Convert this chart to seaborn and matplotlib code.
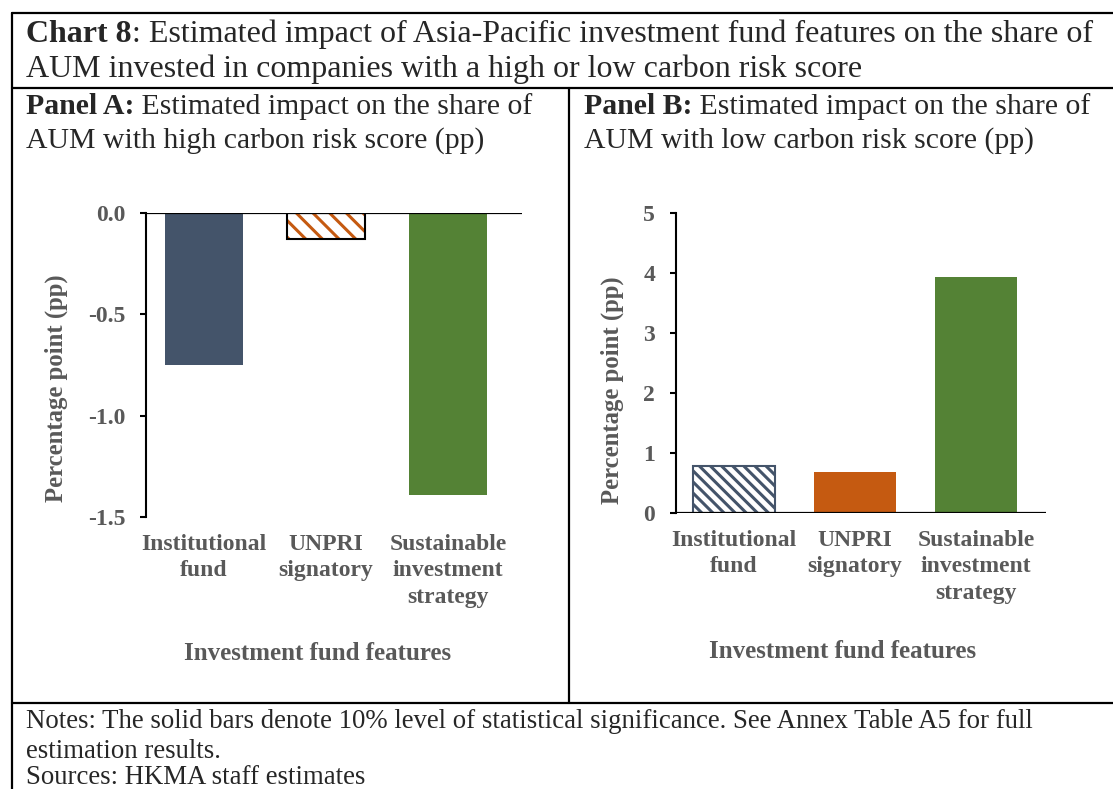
import matplotlib
matplotlib.use("Agg")
import matplotlib.pyplot as plt
import matplotlib.colors as mcolors
from matplotlib.lines import Line2D
import seaborn as sns

# ---------------- data ----------------
categories = ["Institutional\nfund", "UNPRI\nsignatory", "Sustainable\ninvestment\nstrategy"]
panel_a_values = [-0.75, -0.13, -1.39]
panel_b_values = [0.78, 0.68, 3.93]
panel_a_ticks = [0.0, -0.5, -1.0, -1.5]
panel_a_ticklabels = ["0.0", "-0.5", "-1.0", "-1.5"]
panel_b_ticks = [0, 1, 2, 3, 4, 5]
colors = ["#44546A", "#C55A11", "#548235"]
panel_a_hatched = [False, True, False]
panel_b_hatched = [True, False, False]

title_bold = "Chart 8"
title_rest1 = ": Estimated impact of Asia-Pacific investment fund features on the share of"
title_line2 = "AUM invested in companies with a high or low carbon risk score"
panel_a_bold = "Panel A:"
panel_a_rest = " Estimated impact on the share of"
panel_a_line2 = "AUM with high carbon risk score (pp)"
panel_b_bold = "Panel B:"
panel_b_rest = " Estimated impact on the share of"
panel_b_line2 = "AUM with low carbon risk score (pp)"
notes = ["Notes: The solid bars denote 10% level of statistical significance. See Annex Table A5 for full",
         "estimation results.",
         "Sources: HKMA staff estimates"]
ylabel = "Percentage point (pp)"
xlabel = "Investment fund features"

sns.set_theme(style="white")
plt.rcParams["font.family"] = ["Liberation Serif", "DejaVu Serif"]
plt.rcParams["hatch.linewidth"] = 2.2

W, H = 1113, 789
fig = plt.figure(figsize=(W / 100, H / 100), dpi=100)
fig.patch.set_facecolor("white")

def fx(px):
    return px / W

def fy(py):
    return 1 - py / H

TITLE_FS = 23
PANEL_FS = 21.4
NOTES_FS = 19.3
TICK_FS = 17
YLAB_FS = 17.8
XLAB_FS = 18
GREY = "#595959"

# ------------- frame lines -------------
for (x0, y0, x1, y1) in [(12, 13, W, 13), (12, 88, W, 88), (12, 703, W, 703),
                         (12, 13, 12, H), (569, 88, 569, 703)]:
    fig.add_artist(Line2D([fx(x0), fx(x1)], [fy(y0), fy(y1)], color="black", lw=1.6,
                          transform=fig.transFigure))

# ------------- texts -------------
def mixed(x, y, bold, rest, fs):
    t = fig.text(fx(x), fy(y), bold, fontsize=fs, fontweight="bold", va="center", ha="left")
    fig.canvas.draw()
    bb = t.get_window_extent()
    fig.text(bb.x1 / fig.dpi / fig.get_figwidth(), fy(y), rest, fontsize=fs, va="center", ha="left")

mixed(26, 34, title_bold, title_rest1, TITLE_FS)
fig.text(fx(26), fy(69), title_line2, fontsize=TITLE_FS, va="center", ha="left")
mixed(26, 107, panel_a_bold, panel_a_rest, PANEL_FS)
fig.text(fx(26), fy(141), panel_a_line2, fontsize=PANEL_FS, va="center", ha="left")
mixed(584, 107, panel_b_bold, panel_b_rest, PANEL_FS)
fig.text(fx(584), fy(141), panel_b_line2, fontsize=PANEL_FS, va="center", ha="left")
for line, yy in zip(notes, [722, 751, 777]):
    fig.text(fx(26), fy(yy), line, fontsize=NOTES_FS, va="center", ha="left")

# ------------- panels -------------
def style_axis(ax, values, hatched, hatch, ylim, xlim, ticks, ticklabels, width):
    sns.barplot(x=categories, y=values, hue=categories, palette=colors, legend=False,
                width=width, ax=ax, saturation=1)
    for p, c, h in zip(ax.patches, colors, hatched):
        if h:
            p.set_facecolor("white")
            p.set_edgecolor(c)
            p.set_hatch(hatch)
        p.set_linewidth(0)
    ax.set_ylim(*ylim)
    ax.set_xlim(*xlim)
    ax.set_yticks(ticks)
    ax.set_yticklabels(ticklabels)
    for side in ["top", "right", "bottom"]:
        ax.spines[side].set_visible(False)
    ax.spines["left"].set_color("black")
    ax.spines["left"].set_linewidth(1.5)
    ax.axhline(0, color="black", lw=1.6, zorder=5)
    ax.tick_params(axis="y", length=4, width=1.5, color="black", direction="out",
                   labelsize=TICK_FS, labelcolor=GREY, pad=11, left=True)
    ax.tick_params(axis="x", length=0, labelsize=TICK_FS, labelcolor=GREY, pad=12)
    for lab in ax.get_yticklabels() + ax.get_xticklabels():
        lab.set_fontweight("bold")
    for lab in ax.get_xticklabels():
        lab.set_linespacing(1.35)
    ax.set_xlabel("")
    ax.set_ylabel("")
    ax.set_facecolor("white")
    ax.grid(False)

axA = fig.add_axes([fx(146), fy(517), fx(522) - fx(146), fy(213) - fy(517)])
style_axis(axA, panel_a_values, panel_a_hatched, "\\\\", (-1.5, 0.0), (-0.475, 2.607),
           panel_a_ticks, panel_a_ticklabels, 0.64)
# orange hatched bar with black outline
pa = axA.patches[1]
pa.set_edgecolor("black")
pa.set_linewidth(1.5)
pa._hatch_color = mcolors.to_rgba(colors[1])

axB = fig.add_axes([fx(676), fy(513), fx(1046) - fx(676), fy(213) - fy(513)])
style_axis(axB, panel_b_values, panel_b_hatched, "\\\\\\", (0, 5), (-0.479, 2.579),
           panel_b_ticks, [str(t) for t in panel_b_ticks], 0.68)
pb = axB.patches[0]
pb.set_linewidth(1.5)

fig.text(fx(56), fy(388), ylabel, rotation=90, fontsize=YLAB_FS, fontweight="bold",
         color=GREY, ha="center", va="center")
fig.text(fx(612), fy(390), ylabel, rotation=90, fontsize=YLAB_FS, fontweight="bold",
         color=GREY, ha="center", va="center")
fig.text(fx(318), fy(653), xlabel, fontsize=XLAB_FS, fontweight="bold", color=GREY,
         ha="center", va="center")
fig.text(fx(843), fy(652), xlabel, fontsize=XLAB_FS, fontweight="bold", color=GREY,
         ha="center", va="center")

fig.savefig("out.png", dpi=100, facecolor="white")
